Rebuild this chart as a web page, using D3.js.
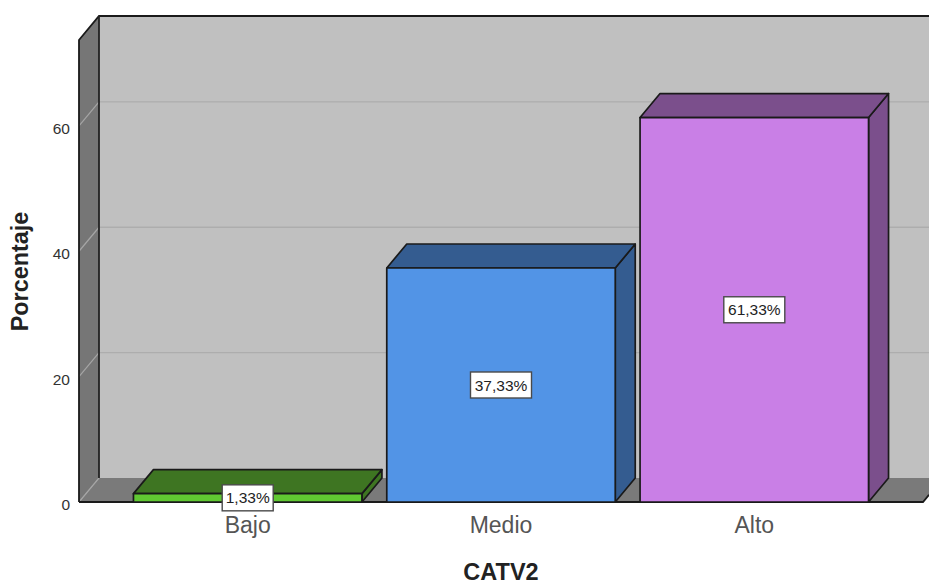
<!DOCTYPE html>
<html>
<head>
<meta charset="utf-8">
<script src="https://cdn.jsdelivr.net/npm/d3@7"></script>
<style>
  html, body { margin: 0; padding: 0; background: #fff; }
  svg { display: block; }
  text { font-family: "Liberation Sans", Arial, sans-serif; }
</style>
</head>
<body>
<svg id="chart" width="929" height="582"></svg>
<script>
// Percentage of cases per CATV2 level
const categories = ["Bajo", "Medio", "Alto"];
const percentages = [1.33, 37.33, 61.33];
const pctLabels = ["1,33%", "37,33%", "61,33%"];
const frontColors = ["#60c832", "#5294e6", "#c97fe6"];
const sideColors = ["#3e7522", "#345c90", "#7b4f8c"];
const yTicks = [0, 20, 40, 60];

const width = 929, height = 582;
const depthX = 20, depthY = -24;       // oblique offset of the box depth
const floorY = 502, frontLeft = 79, frontRight = 923;
const yTop = 73.7;

const svg = d3.select("#chart");
const x = d3.scaleBand().domain(categories).range([frontLeft, frontRight])
  .paddingInner(0.098).paddingOuter(0.215);
const y = d3.scaleLinear().domain([0, yTop]).range([floorY, floorY - 462]);
const poly = pts => d3.line()(pts) + "Z";
const edge = "#1a1a1a";
const backTop = y(yTop) + depthY;
const backBottom = floorY + depthY;

// Back wall, running off the right side of the canvas
svg.append("path")
  .attr("d", poly([[frontLeft + depthX, backTop], [width + 20, backTop], [width + 20, backBottom], [frontLeft + depthX, backBottom]]))
  .attr("fill", "#c0c0c0");

// Left wall
svg.append("path")
  .attr("d", poly([[frontLeft, y(yTop)], [frontLeft + depthX, backTop], [frontLeft + depthX, backBottom], [frontLeft, floorY]]))
  .attr("fill", "#767676");

// Floor
svg.append("path")
  .attr("d", poly([[frontLeft, floorY], [frontLeft + depthX, backBottom], [frontRight + depthX, backBottom], [frontRight, floorY]]))
  .attr("fill", "#7a7a7a");

// Gridlines across the left wall and the back wall
const grid = yTicks.filter(d => d > 0);
svg.append("g").selectAll("path").data(grid).join("path")
  .attr("d", d => d3.line()([[frontLeft + depthX, y(d) + depthY], [width, y(d) + depthY]]))
  .attr("stroke", "#adadad").attr("stroke-width", 1.4).attr("fill", "none");
svg.append("g").selectAll("path").data(yTicks).join("path")
  .attr("d", d => d3.line()([[frontLeft, y(d)], [frontLeft + depthX, y(d) + depthY]]))
  .attr("stroke", "#a6a6a6").attr("stroke-width", 1.2).attr("fill", "none");

// Box outline
svg.append("path")
  .attr("d", d3.line()([[frontLeft, floorY], [frontLeft, y(yTop)], [frontLeft + depthX, backTop], [width, backTop]]))
  .attr("fill", "none").attr("stroke", edge).attr("stroke-width", 1.8);
svg.append("path")
  .attr("d", d3.line()([[frontLeft + depthX, backTop], [frontLeft + depthX, backBottom]]))
  .attr("fill", "none").attr("stroke", "#222").attr("stroke-width", 1.8);
svg.append("path")
  .attr("d", d3.line()([[frontLeft, floorY], [frontRight, floorY], [frontRight + 6, floorY - 7.2]]))
  .attr("fill", "none").attr("stroke", edge).attr("stroke-width", 1.8);

// Bars: side, top and front faces
const rows = categories.map((c, i) => ({ c, v: percentages[i], label: pctLabels[i], front: frontColors[i], side: sideColors[i] }));
const bars = svg.append("g").selectAll("g").data(rows).join("g")
  .attr("stroke", edge).attr("stroke-width", 1.7).attr("stroke-linejoin", "round");

bars.append("path").attr("fill", d => d.side).attr("d", d => {
  const r = x(d.c) + x.bandwidth();
  return poly([[r, floorY], [r + depthX, backBottom], [r + depthX, y(d.v) + depthY], [r, y(d.v)]]);
});
bars.append("path").attr("fill", d => d.side).attr("d", d => {
  const l = x(d.c), r = l + x.bandwidth();
  return poly([[l, y(d.v)], [l + depthX, y(d.v) + depthY], [r + depthX, y(d.v) + depthY], [r, y(d.v)]]);
});
bars.append("rect").attr("fill", d => d.front)
  .attr("x", d => x(d.c)).attr("width", x.bandwidth())
  .attr("y", d => y(d.v)).attr("height", d => floorY - y(d.v));

// Value labels in boxes at the middle of each bar's front face
const tags = svg.append("g").selectAll("g").data(rows).join("g")
  .attr("transform", d => `translate(${x(d.c) + x.bandwidth() / 2},${(y(d.v) + floorY) / 2})`);
const tagWidth = d => d.label.length * 10 + 1;
tags.append("rect")
  .attr("x", d => -tagWidth(d) / 2).attr("width", tagWidth)
  .attr("y", -13).attr("height", 26)
  .attr("fill", "#fff").attr("stroke", "#4a4a4a").attr("stroke-width", 1.4);
tags.append("text").text(d => d.label)
  .attr("text-anchor", "middle").attr("dy", "0.36em")
  .attr("font-size", 15.5).attr("fill", "#222");

// Axes
const yAxis = d3.axisLeft(y).tickValues(yTicks).tickSize(0).tickPadding(9);
svg.append("g").attr("transform", `translate(${frontLeft},2.5)`).call(yAxis)
  .call(g => g.select(".domain").remove())
  .call(g => g.selectAll("text").attr("font-size", 15.5).attr("fill", "#333")
    .style("font-family", '"Liberation Sans", Arial, sans-serif'));

const xAxis = d3.axisBottom(x).tickSize(0).tickPadding(15);
svg.append("g").attr("transform", `translate(0,${floorY})`).call(xAxis)
  .call(g => g.select(".domain").remove())
  .call(g => g.selectAll("text").attr("font-size", 23).attr("fill", "#555")
    .style("font-family", '"Liberation Sans", Arial, sans-serif'));

// Axis titles
svg.append("text").text("CATV2")
  .attr("x", 501).attr("y", 580).attr("text-anchor", "middle")
  .attr("font-size", 23.5).attr("font-weight", "bold").attr("fill", "#222");
svg.append("text").text("Porcentaje")
  .attr("transform", "translate(28,271.5) rotate(-90)").attr("text-anchor", "middle")
  .attr("font-size", 23.4).attr("font-weight", "bold").attr("fill", "#222");
</script>
</body>
</html>
